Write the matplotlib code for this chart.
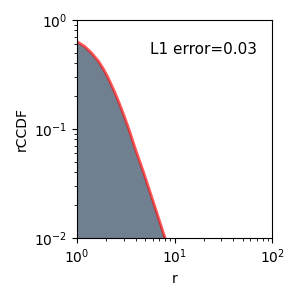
import matplotlib
matplotlib.use("Agg")
import matplotlib.pyplot as plt

# empirical rCCDF (filled area)
r_emp = [1.0, 1.20, 1.41, 1.66, 1.86, 2.09, 2.45, 2.75, 3.09, 3.39, 3.98,
         4.79, 6.03, 7.67, 8.1, 8.45]
ccdf_emp = [0.625, 0.562, 0.489, 0.411, 0.350, 0.287, 0.210, 0.163, 0.124,
            0.098, 0.063, 0.0395, 0.0212, 0.0110, 0.0098, 0.0088]

# model rCCDF (red line)
r_model = [1.0, 1.20, 1.41, 1.66, 1.86, 2.09, 2.45, 2.75, 3.09, 3.39, 3.98,
           4.79, 6.03, 7.67, 8.32]
ccdf_model = [0.631, 0.569, 0.495, 0.417, 0.355, 0.292, 0.214, 0.166, 0.126,
              0.100, 0.0646, 0.0403, 0.0216, 0.0111, 0.0089]

l1_error = 0.03

fig = plt.figure(figsize=(3, 3), dpi=100)
ax = fig.add_axes([0.257, 0.207, 0.65, 0.727])
ax.fill_between(r_emp, ccdf_emp, 1e-4, color="slategray", linewidth=0)
ax.plot(r_model, ccdf_model, color="red", alpha=0.65, linewidth=2)
ax.set_xscale("log")
ax.set_yscale("log")
ax.set_xlim(1, 100)
ax.set_ylim(0.01, 1)
ax.set_xlabel("r")
ax.set_ylabel("rCCDF")
ax.text(0.923, 0.862, f"L1 error={l1_error:.2f}", transform=ax.transAxes,
        ha="right", va="center", fontsize=11)
fig.savefig("out.png", dpi=100)
